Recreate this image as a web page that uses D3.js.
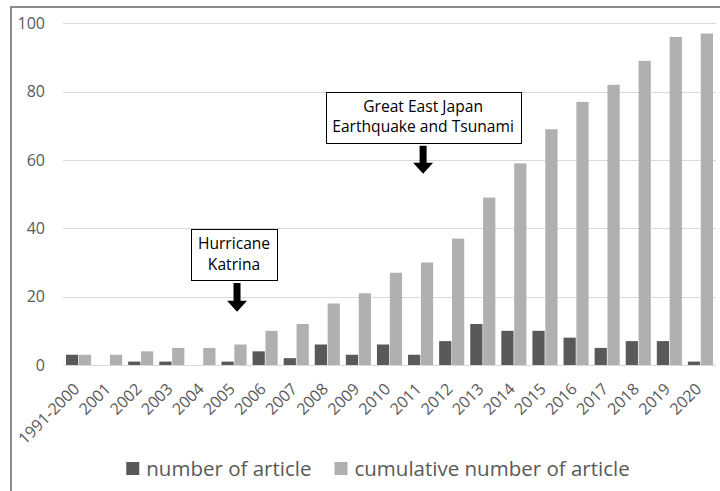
<!DOCTYPE html>
<html>
<head>
<meta charset="utf-8">
<script src="https://cdn.jsdelivr.net/npm/d3@7"></script>
<style>
  body { margin: 0; background: #fff; }
  svg { display: block; font-family: "Open Sans", sans-serif; }
</style>
</head>
<body>
<svg width="720" height="491"></svg>
<script>
// chart data
var categories = ["1991-2000", "2001", "2002", "2003", "2004", "2005", "2006", "2007",
                  "2008", "2009", "2010", "2011", "2012", "2013", "2014", "2015",
                  "2016", "2017", "2018", "2019", "2020"];
var articles   = [3, 0, 1, 1, 0, 1, 4, 2, 6, 3, 6, 3, 7, 12, 10, 10, 8, 5, 7, 7, 1];
var cumulative = [3, 3, 4, 5, 5, 6, 10, 12, 18, 21, 27, 30, 37, 49, 59, 69, 77, 82, 89, 96, 97];
var seriesNames = ["number of article", "cumulative number of article"];
var yTicks = [0, 20, 40, 60, 80, 100];

// annotations: category, text lines, box top/bottom and arrow top/tip (data units)
var notes = [
  {cat: "2005", lines: ["Hurricane", "Katrina"], boxW: 86, top: 39.8, bottom: 24.8, arrTop: 24, arrTip: 15.6, dx: 0, adx: 3},
  {cat: "2011", lines: ["Great East Japan", "Earthquake and Tsunami"], boxW: 195, top: 80, bottom: 65.2, arrTop: 64.2, arrTip: 56, dx: 2.5, adx: 2.5}
];

var svg = d3.select("svg");
var colors = ["#595959", "#b0b0b0"];

// outer chart frame (runs off the right and bottom)
svg.append("rect")
  .attr("x", 11).attr("y", 7)
  .attr("width", 740).attr("height", 520)
  .attr("fill", "none")
  .attr("stroke", "#8a8a8a")
  .attr("stroke-width", 2);

var x = d3.scaleBand()
  .domain(categories)
  .range([63, 716]);

var x1 = d3.scaleBand()
  .domain([0, 1])
  .range([3, x.bandwidth() - 3])
  .paddingInner(0.05);

var y = d3.scaleLinear()
  .domain([0, 100])
  .range([365, 23.3]);

// gridlines
svg.append("g")
  .selectAll("line")
  .data(yTicks)
  .enter().append("line")
    .attr("x1", 63).attr("x2", 716)
    .attr("y1", function(d) { return Math.round(y(d)) + 0.5; })
    .attr("y2", function(d) { return Math.round(y(d)) + 0.5; })
    .attr("stroke", "#d9d9d9")
    .attr("stroke-width", 1);

// y tick labels
svg.append("g")
  .selectAll("text")
  .data(yTicks)
  .enter().append("text")
    .attr("x", 45)
    .attr("y", function(d) { return y(d); })
    .attr("dy", "0.36em")
    .attr("text-anchor", "end")
    .attr("fill", "#595959")
    .attr("font-size", "16px")
    .text(function(d) { return d; });

// bars
var rows = categories.map(function(c, i) { return {cat: c, vals: [articles[i], cumulative[i]]}; });

var groups = svg.append("g")
  .selectAll("g")
  .data(rows)
  .enter().append("g")
    .attr("transform", function(d) { return "translate(" + x(d.cat) + ",0)"; });

groups.selectAll("rect")
  .data(function(d) { return d.vals.map(function(v, k) { return {k: k, v: v}; }); })
  .enter().append("rect")
    .attr("x", function(d) { return x1(d.k); })
    .attr("width", x1.bandwidth())
    .attr("y", function(d) { return y(d.v); })
    .attr("height", function(d) { return y(0) - y(d.v); })
    .attr("fill", function(d) { return colors[d.k]; });

// x labels rotated
svg.append("g")
  .selectAll("text")
  .data(categories)
  .enter().append("text")
    .attr("transform", function(d) {
      return "translate(" + (x(d) + x.bandwidth() / 2 - 2) + ",386) rotate(-45)";
    })
    .attr("text-anchor", "end")
    .attr("dy", "0.35em")
    .attr("fill", "#595959")
    .attr("font-size", "16px")
    .text(function(d) { return d; });

// annotations
notes.forEach(function(n) {
  var cx = x(n.cat) + x.bandwidth() / 2 + n.dx;
  var g = svg.append("g");
  g.append("rect")
    .attr("x", Math.round(cx - n.boxW / 2) + 0.5)
    .attr("y", Math.round(y(n.top)) + 0.5)
    .attr("width", n.boxW)
    .attr("height", Math.round(y(n.bottom) - y(n.top)))
    .attr("fill", "#fff")
    .attr("stroke", "#000")
    .attr("stroke-width", 1);
  var ty = y(n.top);
  n.lines.forEach(function(t, i) {
    g.append("text")
      .attr("x", cx)
      .attr("y", ty + 20 + i * 20.5)
      .attr("text-anchor", "middle")
      .attr("fill", "#000")
      .attr("font-size", "15.6px")
      .text(t);
  });
  // block arrow pointing down
  var ax = x(n.cat) + x.bandwidth() / 2 + n.adx;
  var t0 = y(n.arrTop), t1 = y(n.arrTip), hs = t1 - 11;
  var pts = [[ax - 3.5, t0], [ax + 3.5, t0], [ax + 3.5, hs], [ax + 10, hs],
             [ax, t1], [ax - 10, hs], [ax - 3.5, hs]];
  g.append("polygon")
    .attr("points", pts.map(function(p) { return p.join(","); }).join(" "))
    .attr("fill", "#000");
});

// legend
var legend = svg.append("g");
var items = legend.selectAll("g")
  .data(seriesNames)
  .enter().append("g");
items.append("rect")
  .attr("width", 13).attr("height", 13)
  .attr("y", 462)
  .attr("fill", function(d, i) { return colors[i]; });
items.append("text")
  .attr("x", 20)
  .attr("y", 476)
  .attr("fill", "#595959")
  .attr("font-size", "20.5px")
  .text(function(d) { return d; });

var widths = [];
items.each(function() { widths.push(this.getBBox().width); });
var total = widths[0] + 23 + widths[1];
var lx = 378 - total / 2;
items.attr("transform", function(d, i) {
  var off = i === 0 ? lx : lx + widths[0] + 23;
  return "translate(" + off + ",0)";
});
</script>
</body>
</html>
